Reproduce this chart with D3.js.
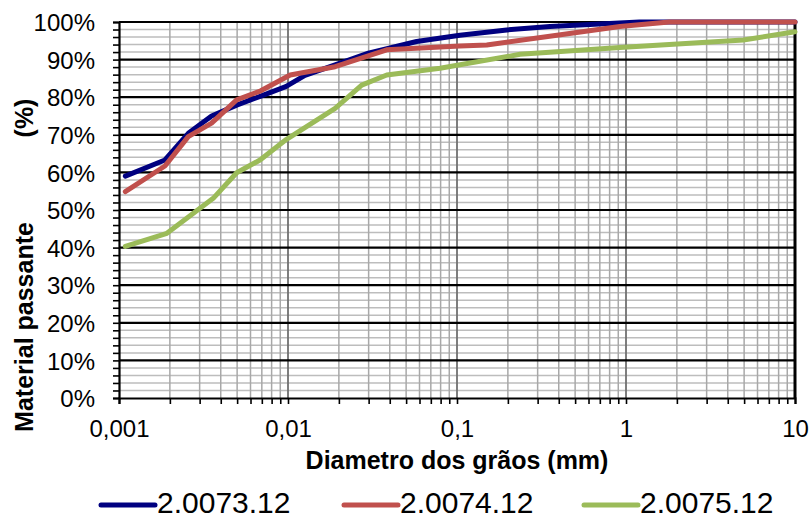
<!DOCTYPE html>
<html>
<head>
<meta charset="utf-8">
<script src="https://cdn.jsdelivr.net/npm/d3@7"></script>
<style>
  body { margin: 0; background: #fff; }
  text { font-family: "Liberation Sans", Arial, sans-serif; fill: #000; }
</style>
</head>
<body>
<div id="chart"></div>
<script>
// grain size curves (diameter in mm, % passing)
const seriesNames = ['2.0073.12', '2.0074.12', '2.0075.12'];
const seriesColors = ['#000080', '#C0504D', '#9BBB59'];

const diamA = [0.00109, 0.00187, 0.00257, 0.00353, 0.00497, 0.0069, 0.0097, 0.0126, 0.019, 0.0299, 0.0577, 0.104, 0.197, 0.355, 1.2, 10];
const passA = [59.0, 63.3, 70.4, 75.0, 77.9, 80.3, 82.8, 85.8, 88.6, 91.7, 94.8, 96.5, 97.9, 98.8, 100, 100];

const diamB = [0.00109, 0.00187, 0.00257, 0.00353, 0.00497, 0.0069, 0.0103, 0.019, 0.0384, 0.104, 0.15, 0.42, 0.92, 1.8, 10];
const passB = [54.9, 61.7, 69.5, 73.1, 79.3, 81.7, 85.9, 88.1, 92.6, 93.6, 93.9, 96.7, 98.8, 100, 100];

const diamC = [0.00109, 0.00192, 0.00361, 0.00497, 0.00683, 0.0098, 0.019, 0.0273, 0.0384, 0.0794, 0.236, 0.92, 4.95, 10];
const passC = [40.3, 43.8, 53.1, 59.9, 63.3, 68.8, 77.0, 83.2, 85.9, 87.7, 91.4, 93.2, 95.2, 97.4];

const xTickLabels = ['0,001', '0,01', '0,1', '1', '10'];
const xTitle = 'Diametro dos grãos (mm)';
const yTitle = 'Material passante';
const yTitleUnit = '(%)';

const width = 810, height = 518;
const margin = { top: 22, right: 15, bottom: 120, left: 119 };
const innerW = width - margin.left - margin.right;
const innerH = height - margin.top - margin.bottom;

const svg = d3.select('#chart').append('svg')
  .attr('width', width)
  .attr('height', height);

const chart = svg.append('g')
  .attr('transform', `translate(${margin.left},${margin.top})`);

const x = d3.scaleLog().domain([0.001, 10]).range([0, innerW]);
const y = d3.scaleLinear().domain([0, 100]).range([innerH, 0]);

// minor/major positions
const decades = [0.001, 0.01, 0.1, 1];
const xMinor = [];
decades.forEach(d => { for (let k = 1; k <= 9; k++) xMinor.push(d * k); });
xMinor.push(10);
const yMinor = d3.range(0, 101, 2);

// horizontal grid
chart.append('g').selectAll('line')
  .data(yMinor.filter(v => v % 10 !== 0))
  .join('line')
  .attr('x1', 0).attr('x2', innerW)
  .attr('y1', d => y(d)).attr('y2', d => y(d))
  .attr('stroke', '#bdbdbd').attr('stroke-width', 1.5);

// vertical grid
chart.append('g').selectAll('line')
  .data(xMinor.filter(v => ![0.001, 0.01, 0.1, 1, 10].includes(+v.toPrecision(6))))
  .join('line')
  .attr('x1', d => x(d)).attr('x2', d => x(d))
  .attr('y1', 0).attr('y2', innerH)
  .attr('stroke', '#a8a8a8').attr('stroke-width', 1.5);

chart.append('g').selectAll('line')
  .data([0.01, 0.1, 1])
  .join('line')
  .attr('x1', d => x(d)).attr('x2', d => x(d))
  .attr('y1', 0).attr('y2', innerH)
  .attr('stroke', '#707070').attr('stroke-width', 1.8);

chart.append('g').selectAll('line')
  .data(d3.range(10, 101, 10))
  .join('line')
  .attr('x1', 0).attr('x2', innerW)
  .attr('y1', d => y(d)).attr('y2', d => y(d))
  .attr('stroke', '#000').attr('stroke-width', 2.2);

// right border
chart.append('line')
  .attr('x1', innerW).attr('x2', innerW)
  .attr('y1', 0).attr('y2', innerH)
  .attr('stroke', '#000').attr('stroke-width', 3);

// axes
const yAxis = d3.axisLeft(y)
  .tickValues(yMinor)
  .tickSize(6)
  .tickFormat(d => (d % 10 === 0 ? `${d}%` : ''));

const gy = chart.append('g').call(yAxis);
gy.select('.domain').attr('stroke-width', 2.2);
gy.selectAll('.tick line').attr('stroke-width', 1.6);
gy.selectAll('.tick text').attr('font-size', 24).attr('dy', '0.36em')
  .attr('x', -24);

const xAxis = d3.axisBottom(x)
  .tickValues(xMinor)
  .tickSize(6)
  .tickPadding(16)
  .tickFormat(d => {
    const i = [0.001, 0.01, 0.1, 1, 10].findIndex(v => Math.abs(v - d) / v < 1e-6);
    return i >= 0 ? xTickLabels[i] : '';
  });

const gx = chart.append('g')
  .attr('transform', `translate(0,${innerH})`)
  .call(xAxis);
gx.select('.domain').attr('stroke-width', 2.2);
gx.selectAll('.tick line').attr('stroke-width', 1.6);
gx.selectAll('.tick text').attr('font-size', 24).attr('dy', '0.71em');

// curves
const line = d3.line()
  .x(d => x(d[0]))
  .y(d => y(d[1]));

const series = [
  d3.zip(diamA, passA),
  d3.zip(diamB, passB),
  d3.zip(diamC, passC)
];

chart.append('g').selectAll('path')
  .data(series)
  .join('path')
  .attr('d', line)
  .attr('fill', 'none')
  .attr('stroke', (d, i) => seriesColors[i])
  .attr('stroke-width', 5)
  .attr('stroke-linejoin', 'round')
  .attr('stroke-linecap', 'round');

// titles
svg.append('text')
  .attr('x', margin.left + innerW / 2)
  .attr('y', 469)
  .attr('text-anchor', 'middle')
  .attr('font-size', 25)
  .attr('font-weight', 'bold')
  .text(xTitle);

svg.append('text')
  .attr('transform', 'translate(33,327) rotate(-90)')
  .attr('text-anchor', 'middle')
  .attr('font-size', 25)
  .attr('font-weight', 'bold')
  .text(yTitle);

svg.append('text')
  .attr('transform', 'translate(33,118) rotate(-90)')
  .attr('text-anchor', 'middle')
  .attr('font-size', 25)
  .attr('font-weight', 'bold')
  .text(yTitleUnit);

// legend
const legendX = [101, 344, 584];
const legend = svg.append('g').selectAll('g')
  .data(seriesNames)
  .join('g')
  .attr('transform', (d, i) => `translate(${legendX[i]},505)`);

legend.append('line')
  .attr('x1', 0).attr('x2', 54)
  .attr('stroke', (d, i) => seriesColors[i])
  .attr('stroke-width', 5)
  .attr('stroke-linecap', 'round');

legend.append('text')
  .attr('x', 56)
  .attr('y', 8)
  .attr('font-size', 30)
  .text(d => d);
</script>
</body>
</html>
